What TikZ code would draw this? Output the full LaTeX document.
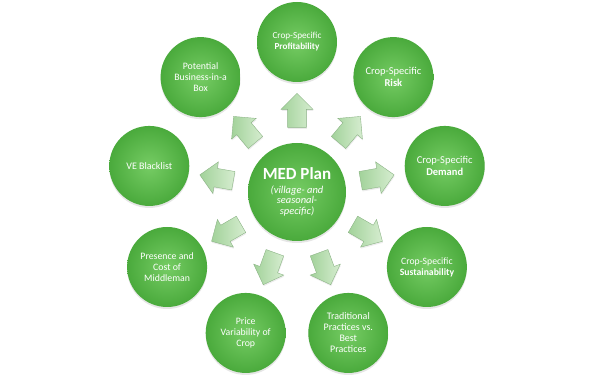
\documentclass[tikz,border=0pt]{standalone}
\usepackage{fontspec}
\setmainfont{Carlito}
\definecolor{LeafGreen}{RGB}{118,204,100}
\definecolor{DeepGreen}{RGB}{74,170,60}
\definecolor{PaleGreen}{RGB}{214,237,208}
\definecolor{SoftGreen}{RGB}{162,210,154}
\definecolor{EdgeGreen}{RGB}{140,180,134}
\usepackage{tikz}
\usetikzlibrary{shapes.arrows, calc, shadows}

\begin{document}
\begin{tikzpicture}[x=1pt, y=1pt,
    topic/.style={circle, minimum size=80pt, inner sep=0pt, text=white, align=center,
      inner color=LeafGreen, outer color=DeepGreen,
      drop shadow={opacity=0.2, shadow xshift=0pt, shadow yshift=-2pt}},
    hub/.style={topic, minimum size=98pt},
    push/.style={single arrow, minimum height=34pt, minimum width=32pt, single arrow head extend=6.5pt,
      inner xsep=0pt, inner ysep=9pt, draw=EdgeGreen, left color=SoftGreen, right color=PaleGreen,
      drop shadow={opacity=0.15, shadow xshift=0.5pt, shadow yshift=-1.5pt}}]
  \useasboundingbox (0,0) rectangle (592,379);
  \node[hub, font=\fontsize{10.5}{10.5}\selectfont\itshape] (med) at (297,187)
    {{\fontsize{17}{17}\selectfont\upshape\bfseries MED Plan}\\[3pt](village- and\\seasonal-\\specific)};
  \node[topic, font=\fontsize{9.2}{11}\selectfont] (prof) at ($(med)+(90:150)$) {Crop-Specific\\\textbf{Profitability}};
  \node[topic, font=\fontsize{10.5}{12}\selectfont] (risk) at ($(med)+(50:150)$) {Crop-Specific\\\textbf{Risk}};
  \node[topic, font=\fontsize{10.5}{12}\selectfont] (demand) at ($(med)+(10:150)$) {Crop-Specific\\\textbf{Demand}};
  \node[topic, font=\fontsize{9.7}{11}\selectfont] (sustain) at ($(med)+(-30:150)$) {Crop-Specific\\\textbf{Sustainability}};
  \node[topic, font=\fontsize{10}{11}\selectfont] (trad) at ($(med)+(-70:150)$) {Traditional\\Practices vs.\\Best\\Practices};
  \node[topic, font=\fontsize{9.8}{11}\selectfont] (price) at ($(med)+(-110:150)$) {Price\\Variability of\\Crop};
  \node[topic, font=\fontsize{9.8}{11}\selectfont] (middle) at ($(med)+(-150:150)$) {Presence and\\Cost of\\Middleman};
  \node[topic, font=\fontsize{10}{11}\selectfont] (blacklist) at ($(med)+(170:150)$) {VE Blacklist};
  \node[topic, font=\fontsize{9.8}{11}\selectfont] (business) at ($(med)+(130:150)$) {Potential\\Business-in-a\\Box};
  \node[push, rotate=90] (a1) at ($(med)!0.513!(prof)$) {};
  \node[push, rotate=50] (a2) at ($(med)!0.513!(risk)$) {};
  \node[push, rotate=10] (a3) at ($(med)!0.513!(demand)$) {};
  \node[push, rotate=-30] (a4) at ($(med)!0.513!(sustain)$) {};
  \node[push, rotate=-70] (a5) at ($(med)!0.513!(trad)$) {};
  \node[push, rotate=-110] (a6) at ($(med)!0.513!(price)$) {};
  \node[push, rotate=-150] (a7) at ($(med)!0.513!(middle)$) {};
  \node[push, rotate=170] (a8) at ($(med)!0.513!(blacklist)$) {};
  \node[push, rotate=130] (a9) at ($(med)!0.513!(business)$) {};
\end{tikzpicture}
\end{document}
